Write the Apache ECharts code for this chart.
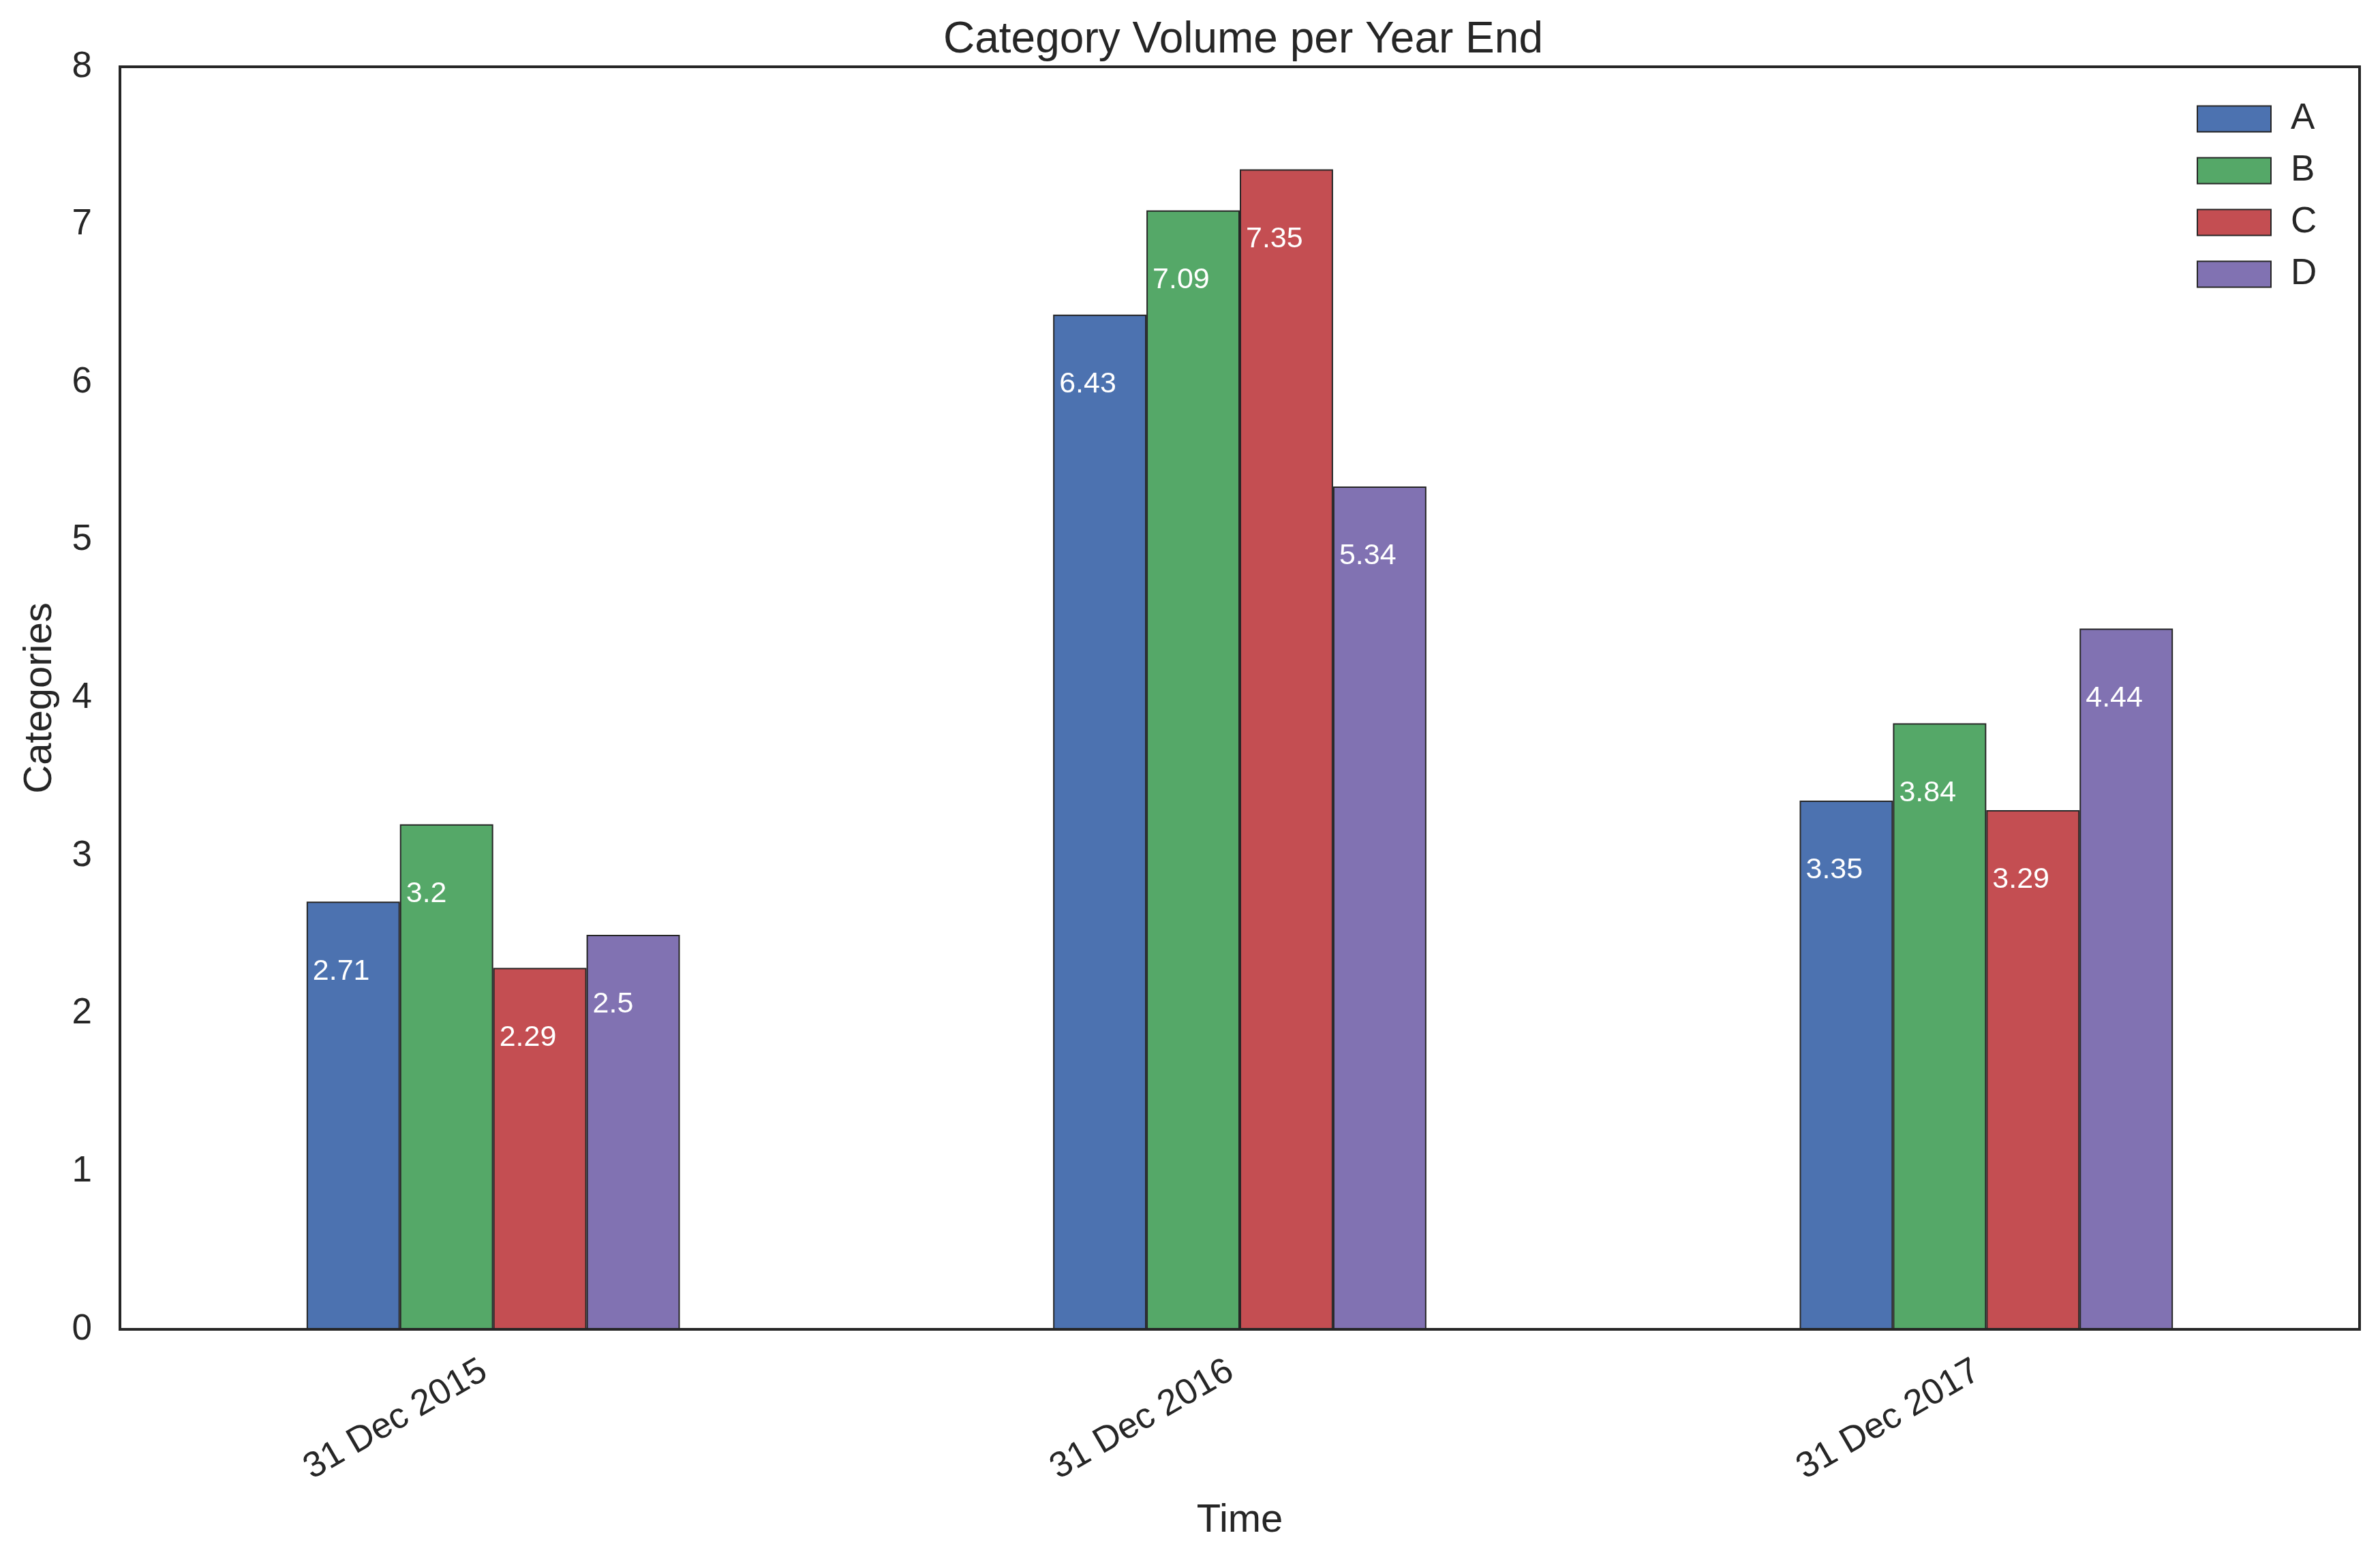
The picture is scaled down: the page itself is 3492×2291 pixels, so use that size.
<!DOCTYPE html>
<html>
<head>
<meta charset="utf-8">
<script src="https://cdn.jsdelivr.net/npm/echarts@6/dist/echarts.min.js"></script>
<style>
html,body{margin:0;padding:0;background:#fff;}
#chart{width:3492px;height:2291px;}
</style>
</head>
<body>
<div id="chart"></div>
<script>
const categories = ['31 Dec 2015', '31 Dec 2016', '31 Dec 2017'];
const seriesNames = ['A', 'B', 'C', 'D'];
const valuesA = [2.71, 6.43, 3.35];
const valuesB = [3.2, 7.09, 3.84];
const valuesC = [2.29, 7.35, 3.29];
const valuesD = [2.5, 5.34, 4.44];
const colors = ['#4C72B0', '#55A868', '#C44E52', '#8172B2'];

const FONT = 'Liberation Sans, Arial, sans-serif';
const TXT = '#262626';
const allValues = [valuesA, valuesB, valuesC, valuesD];

const chart = echarts.init(document.getElementById('chart'), null, {renderer: 'canvas'});

const series = seriesNames.map((name, i) => ({
  name: name,
  type: 'bar',
  data: allValues[i],
  barWidth: '12.5%',
  barGap: '0%',
  itemStyle: {color: colors[i], borderColor: '#262626', borderWidth: 2},
  label: {
    show: true,
    position: 'insideTopLeft',
    distance: 0,
    offset: [9, 81],
    color: '#ffffff',
    fontSize: 43,
    fontFamily: FONT,
    formatter: p => String(p.value)
  },
  emphasis: {disabled: true}
}));

chart.setOption({
  animation: false,
  backgroundColor: '#ffffff',
  title: {
    text: 'Category Volume per Year End',
    left: 1819,
    textAlign: 'center',
    top: 22,
    textStyle: {fontSize: 64, fontWeight: 'normal', color: TXT, fontFamily: FONT}
  },
  legend: {
    orient: 'vertical',
    left: 3223,
    top: 148,
    padding: 0,
    itemWidth: 108,
    itemHeight: 38,
    itemGap: 23,
    icon: 'rect',
    data: seriesNames,
    textStyle: {fontSize: 53, color: TXT, fontFamily: FONT, lineHeight: 38, padding: [0, 0, 0, 24]},
    itemStyle: {borderColor: '#262626', borderWidth: 2}
  },
  grid: {
    left: 176, right: 30, top: 98, bottom: 340,
    show: true,
    borderColor: '#262626',
    borderWidth: 4,
    backgroundColor: 'transparent'
  },
  xAxis: {
    type: 'category',
    data: categories,
    boundaryGap: true,
    axisLine: {show: false},
    axisTick: {show: false},
    splitLine: {show: false},
    axisLabel: {
      rotate: 30,
      margin: 50,
      fontSize: 53,
      color: TXT,
      fontFamily: FONT,
      interval: 0,
      padding: [0, 15, 0, 0]
    },
    name: 'Time',
    nameLocation: 'middle',
    nameGap: 252,
    nameTextStyle: {fontSize: 58, color: TXT, fontFamily: FONT}
  },
  yAxis: {
    type: 'value',
    min: 0,
    max: 8,
    interval: 1,
    axisLine: {show: false},
    axisTick: {show: false},
    splitLine: {show: false},
    axisLabel: {margin: 41, fontSize: 53, color: TXT, fontFamily: FONT},
    name: 'Categories',
    nameLocation: 'middle',
    nameGap: 88,
    nameTextStyle: {fontSize: 58, color: TXT, fontFamily: FONT}
  },
  series: series
});
</script>
</body>
</html>
